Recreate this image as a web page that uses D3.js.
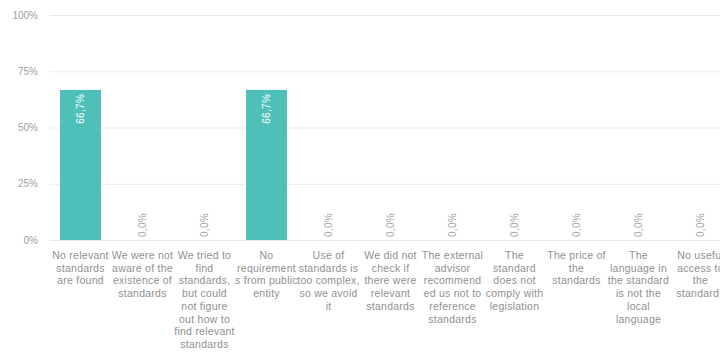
<!DOCTYPE html>
<html>
<head>
<meta charset="utf-8">
<script src="https://cdn.jsdelivr.net/npm/d3@7/dist/d3.min.js"></script>
<style>
  html, body { margin: 0; padding: 0; background: #fff; }
  svg { display: block; font-family: "Liberation Sans", Arial, sans-serif; }
</style>
</head>
<body>
<svg id="chart" width="720" height="352"></svg>
<script>
// Reasons for not referencing standards, with the category labels pre-broken into lines
const categories = [
  ["No relevant", "standards", "are found"],
  ["We were not", "aware of the", "existence of", "standards"],
  ["We tried to", "find", "standards,", "but could", "not figure", "out how to", "find relevant", "standards"],
  ["No", "requirement", "s from public", "entity"],
  ["Use of", "standards is", "too complex,", "so we avoid", "it"],
  ["We did not", "check if", "there were", "relevant", "standards"],
  ["The external", "advisor", "recommend", "ed us not to", "reference", "standards"],
  ["The", "standard", "does not", "comply with", "legislation"],
  ["The price of", "the", "standards"],
  ["The", "language in", "the standard", "is not the", "local", "language"],
  ["No useful", "access to", "the", "standards"]
];
const values = [66.7, 0, 0, 66.7, 0, 0, 0, 0, 0, 0, 0];
const yTicks = [0, 25, 50, 75, 100];

const svg = d3.select("#chart");
const left = 49.5, band = 62;
const x = d3.scaleBand()
  .domain(d3.range(categories.length))
  .range([left, left + band * categories.length])
  .paddingInner(0.34).paddingOuter(0.17);
const y = d3.scaleLinear().domain([0, 100]).range([240, 15]);

const fmt = v => v.toFixed(1).replace(".", ",") + "%";

// gridlines
svg.append("g").selectAll("line").data(yTicks).join("line")
  .attr("x1", left).attr("x2", 720)
  .attr("y1", d => y(d) + 0.5).attr("y2", d => y(d) + 0.5)
  .attr("stroke", "#e8e8e8").attr("stroke-width", 1);

// y axis labels
const yAxis = svg.append("g")
  .attr("transform", "translate(38,0)")
  .call(d3.axisLeft(y).tickValues(yTicks).tickSize(0).tickPadding(0).tickFormat(d => d + "%"));
yAxis.select(".domain").remove();
yAxis.selectAll("text").attr("fill", "#a0a0a0").attr("font-size", 10)
  .attr("font-family", "Liberation Sans, Arial, sans-serif");

// bars
svg.append("g").selectAll("rect").data(values).join("rect")
  .attr("x", (d, i) => x(i))
  .attr("width", x.bandwidth())
  .attr("y", d => y(d))
  .attr("height", d => y(0) - y(d))
  .attr("fill", "#4fbfb9");

// value labels, rotated
svg.append("g").selectAll("text").data(values).join("text")
  .attr("transform", (d, i) => {
    const cx = x(i) + x.bandwidth() / 2 + 3.5;
    const ty = d > 10 ? y(d) + 4 : y(0) - 3;
    return `translate(${cx},${ty}) rotate(-90)`;
  })
  .attr("text-anchor", d => d > 10 ? "end" : "start")
  .attr("font-size", 10)
  .attr("letter-spacing", 0.3)
  .attr("fill", d => d > 10 ? "#ffffff" : "#a5a5a5")
  .text(d => fmt(d));

// category labels
const cat = svg.append("g").selectAll("text").data(categories).join("text")
  .attr("text-anchor", "middle")
  .attr("font-size", 10.5)
  .attr("letter-spacing", 0.25)
  .attr("fill", "#909090")
  .attr("transform", (d, i) => `translate(${x(i) + x.bandwidth() / 2},259)`);
cat.selectAll("tspan").data(d => d).join("tspan")
  .attr("x", 0)
  .attr("y", (d, j) => j * 12.7)
  .text(d => d);
</script>
</body>
</html>
